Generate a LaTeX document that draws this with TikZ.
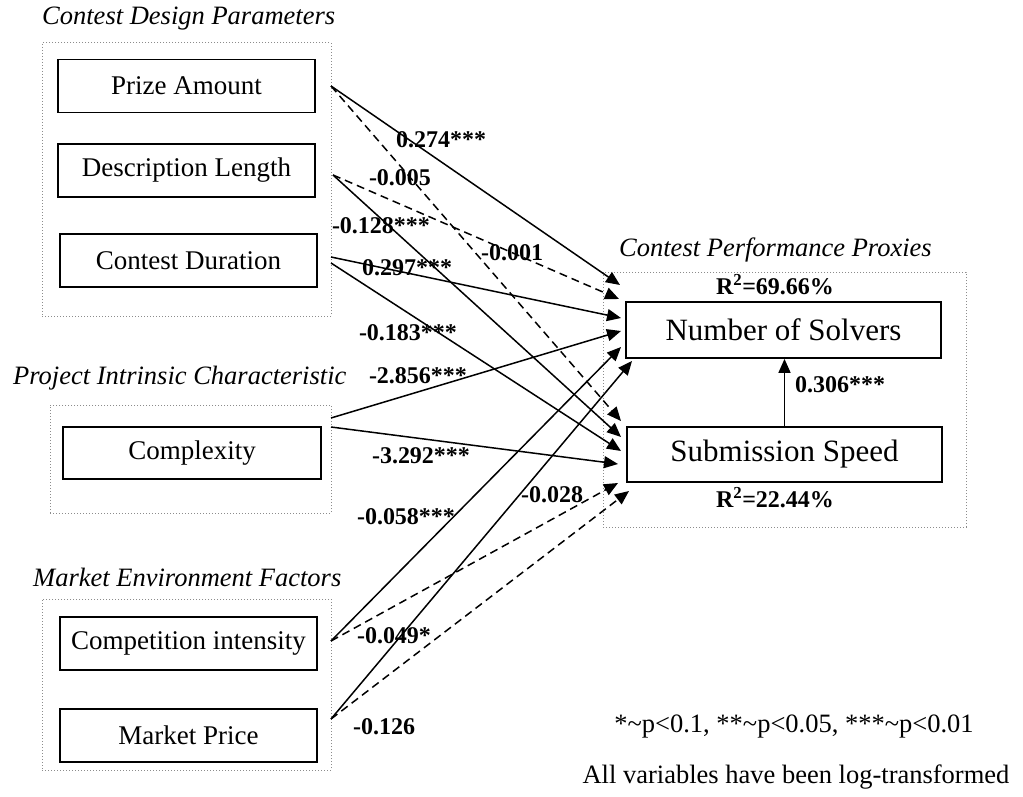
\documentclass[tikz,border=0pt]{standalone}
\usepackage{fontspec}
\setmainfont{Liberation Serif}
\usetikzlibrary{arrows.meta}
\begin{document}
\begin{tikzpicture}[x=1pt,y=-1pt,
  box/.style={draw,line width=1.8pt,minimum width=257pt,minimum height=53pt,inner sep=0pt,font=\fontsize{27}{31}\selectfont},
  bigbox/.style={box,minimum width=315pt,minimum height=56pt,font=\fontsize{31}{35}\selectfont},
  group/.style={draw=black!45,dotted,line width=1pt,inner sep=0pt},
  grouplabel/.style={anchor=west,inner sep=0pt,font=\fontsize{26.5}{30}\selectfont\itshape},
  coef/.style={inner sep=0pt,font=\fontsize{24}{28}\selectfont\bfseries},
  note/.style={inner sep=0pt,font=\fontsize{26.5}{30}\selectfont},
  arr/.style={line width=1.5pt,-{Triangle[length=14pt,width=12pt]}},
  darr/.style={arr,dash pattern=on 8pt off 5pt},
]
\useasboundingbox (0,0) rectangle (1023,797);

% group frames
\node[group,minimum width=289pt,minimum height=273pt] (g1) at (186.5,179.5) {};
\node[group,minimum width=281pt,minimum height=108pt] (g2) at (190.5,459) {};
\node[group,minimum width=289pt,minimum height=171pt] (g3) at (186.5,684.5) {};
\node[group,minimum width=363pt,minimum height=255pt] (g4) at (784.5,399.5) {};

% group labels
\node[grouplabel] (l1) at (42,19) {Contest Design Parameters};
\node[grouplabel] (l2) at (13,378) {Project Intrinsic Characteristic};
\node[grouplabel] (l3) at (33,577) {Market Environment Factors};
\node[grouplabel] (l4) at (619,250) {Contest Performance Proxies};

% variable boxes
\node[box] (pa) at (186.5,86) {Prize Amount};
\node[box] (dl) at (186.5,170.5) {Description Length};
\node[box] (cd) at (188.5,260.5) {Contest Duration};
\node[box,minimum width=258pt,minimum height=52pt] (cx) at (192,453) {Complexity};
\node[box] (ci) at (188.5,643.5) {Competition intensity};
\node[box] (mp) at (188.5,735.5) {Market Price};
\node[bigbox] (nos) at (783.5,330) {Number of Solvers};
\node[bigbox,minimum height=55pt] (ss) at (784.5,454.5) {Submission Speed};

% start points (on the group frames)
\coordinate (pa-o) at (331,86);
\coordinate (dl-o) at (333,175);
\coordinate (cd-o1) at (331,257);
\coordinate (cd-o2) at (331,263);
\coordinate (cx-o1) at (331,418);
\coordinate (cx-o2) at (331,427);
\coordinate (ci-o) at (331,641);
\coordinate (mp-o) at (331,719);

% end points
\coordinate (nos-1) at (620,285);
\coordinate (nos-2) at (619,299);
\coordinate (nos-3) at (621,318);
\coordinate (nos-4) at (621,331);
\coordinate (nos-5) at (621,347);
\coordinate (nos-6) at (632,361);
\coordinate (ss-1) at (621,421);
\coordinate (ss-2) at (621,437);
\coordinate (ss-3) at (621,451);
\coordinate (ss-4) at (618,464);
\coordinate (ss-5) at (618,483);
\coordinate (ss-6) at (629,491);

% connectors
\draw[arr]  (pa-o) -- (nos-1);
\draw[darr] (pa-o) -- (ss-1);
\draw[darr] (dl-o) -- (nos-2);
\draw[arr]  (dl-o) -- (ss-2);
\draw[arr]  (cd-o1) -- (nos-3);
\draw[arr]  (cd-o2) -- (ss-3);
\draw[arr]  (cx-o1) -- (nos-4);
\draw[arr]  (cx-o2) -- (ss-4);
\draw[arr]  (ci-o) -- (nos-5);
\draw[darr] (ci-o) -- (ss-5);
\draw[arr]  (mp-o) -- (nos-6);
\draw[darr] (mp-o) -- (ss-6);
\draw[arr]  (ss.north) -- (ss.north |- nos.south);

% coefficients
\node[coef] (c1) at (441,140) {0.274***};
\node[coef] (c2) at (400,178) {-0.005};
\node[coef] (c3) at (381,226) {-0.128***};
\node[coef] (c4) at (512,253) {-0.001};
\node[coef] (c5) at (407,268) {0.297***};
\node[coef] (c6) at (408,333) {-0.183***};
\node[coef] (c7) at (418,376) {-2.856***};
\node[coef] (c8) at (421,456) {-3.292***};
\node[coef] (c9) at (406,517) {-0.058***};
\node[coef] (c10) at (552,495) {-0.028};
\node[coef] (c11) at (394,636) {-0.049*};
\node[coef] (c12) at (384,727) {-0.126};
\node[coef,anchor=west] (c13) at (795,385) {0.306***};
\node[coef] (r1) at (775,285) {R\textsuperscript{2}=69.66\%};
\node[coef] (r2) at (775,498) {R\textsuperscript{2}=22.44\%};

% notes
\node[note] (n1) at (794,727) {*\textasciitilde p<0.1, **\textasciitilde p<0.05, ***\textasciitilde p<0.01};
\node[note] (n2) at (796,777) {All variables have been log-transformed};
\end{tikzpicture}
\end{document}
